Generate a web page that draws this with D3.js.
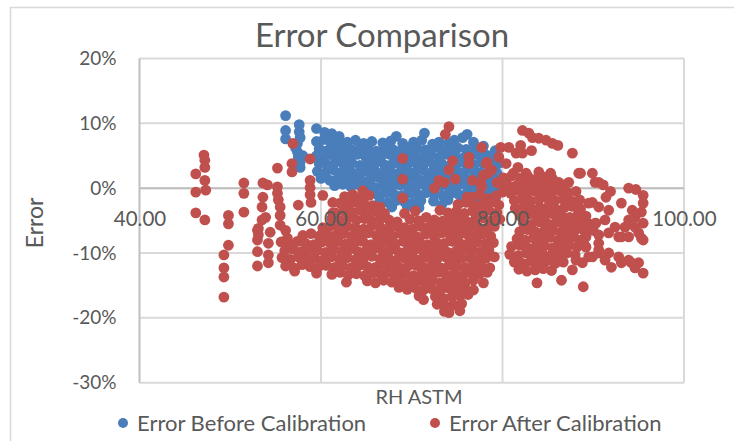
<!DOCTYPE html>
<html>
<head>
<meta charset="utf-8">
<script src="https://cdn.jsdelivr.net/npm/d3@7/dist/d3.min.js"></script>
<style>
  body { margin: 0; background: #fff; }
  text { font-family: Lato, "Open Sans", sans-serif; fill: #595959; }
</style>
</head>
<body>
<div id="chart"></div>
<script>
// axis ticks and series names
const xTicks = [40, 60, 80, 100];
const yTicks = [-30, -20, -10, 0, 10, 20];
const seriesNames = ["Error Before Calibration", "Error After Calibration"];

// Error Before Calibration: [RH ASTM, error %]
const beforeCal = [
  [56.1,11.2],[56.1,8.9],[56.1,7.6],[57.6,9.8],[57.6,8.7],[57.7,7.8],[57.4,6.9],[57.4,5.6],[57.5,4.8],[57.7,4.0],[57.7,3.2],[57.2,6.2],[58.0,5.0],
  [59.5,9.2],[60.4,8.6],[61.2,8.4],[62.0,8.0],[68.3,8.0],[71.4,8.5],[76.1,8.3],[74.7,7.4],[73.0,7.1],[75.6,7.8],
  [59.5,7.2],[60.3,7.5],[61.1,7.0],[62.0,7.3],[62.9,7.1],[63.8,7.4],[64.7,6.9],[65.6,7.2],[66.8,7.0],[67.7,7.3],[69.0,6.9],[70.2,7.1],[71.1,7.4],[72.3,6.8],[74.1,7.0],[76.8,7.1],[77.9,6.5],
  [59.8,6.1],[60.7,5.8],[61.6,6.3],[62.5,6.0],[63.4,5.9],[64.3,6.2],[65.2,6.0],[66.1,5.7],[67.0,6.2],[67.9,6.0],[68.8,5.8],[69.7,6.3],[70.6,6.1],[71.5,5.9],[72.4,6.2],[73.3,6.0],[74.2,5.8],[75.1,6.2],[76.0,6.0],[76.9,5.7],[77.8,6.1],[79.2,5.8],
  [59.5,5.0],[60.4,4.7],[61.3,5.1],[62.2,4.9],[63.1,4.8],[64.0,5.2],[64.9,4.9],[65.8,4.7],[66.7,5.0],[67.6,5.2],[68.5,4.8],[69.4,4.9],[70.3,5.1],[71.2,4.7],[72.1,5.0],[73.0,4.8],[73.9,5.2],[74.8,4.9],[75.7,4.7],[76.6,5.1],[77.5,4.9],[78.4,5.0],[79.3,4.7],
  [59.8,3.8],[60.7,3.6],[61.6,4.0],[62.5,3.7],[63.4,3.9],[64.3,3.5],[65.2,3.8],[66.1,4.0],[67.0,3.6],[67.9,3.8],[68.8,3.5],[69.7,3.9],[70.6,3.7],[71.5,4.0],[72.4,3.6],[73.3,3.8],[74.2,3.5],[75.1,3.9],[76.0,3.7],[76.9,3.6],[77.8,3.9],[78.7,3.5],[79.6,3.8],
  [59.6,2.6],[60.5,2.4],[61.4,2.8],[62.3,2.5],[63.2,2.7],[64.1,2.3],[65.0,2.6],[65.9,2.8],[66.8,2.4],[67.7,2.6],[68.6,2.3],[69.5,2.7],[70.4,2.5],[71.3,2.8],[72.2,2.4],[73.1,2.6],[74.0,2.3],[74.9,2.7],[75.8,2.5],[76.7,2.8],[77.6,2.4],[78.5,2.6],[79.4,2.3],
  [60.0,1.5],[61.0,1.2],[61.9,1.6],[62.8,1.3],[63.7,1.5],[64.6,1.1],[65.5,1.4],[66.4,1.6],[67.3,1.2],[68.2,1.4],[69.1,1.1],[70.0,1.5],[70.9,1.3],[71.8,1.6],[72.7,1.2],[73.6,1.4],[74.5,1.1],[75.4,1.5],[76.3,1.3],[77.2,1.6],[78.1,1.2],[79.0,1.4],
  [61.5,0.4],[62.4,0.6],[63.3,0.2],[64.2,0.5],[65.1,0.3],[66.0,0.1],[66.9,0.4],[67.8,0.2],[68.7,0.5],[69.6,0.1],[70.5,0.3],[71.4,0.5],[72.3,0.2],[73.2,0.4],[74.1,0.1],[75.0,0.3],[75.9,0.5],[76.8,0.2],[77.7,0.4],[78.6,0.1],[79.5,0.3],
  [65.0,-0.8],[66.2,-1.0],[67.1,-0.7],[68.0,-0.9],[68.9,-1.1],[69.8,-0.8],[70.7,-1.0],[71.6,-0.7],[72.5,-0.9],[73.4,-1.1],[74.3,-0.8],[75.2,-1.0],[76.1,-0.7],[77.0,-0.9],[77.9,-1.1],[78.8,-0.8],
  [66.5,-2.0],[67.4,-2.2],[68.3,-1.9],[69.2,-2.1],[70.1,-2.3],[71.0,-1.9],[72.4,-2.0],[74.0,-1.8],[75.5,-2.1],[77.2,-1.9],[78.5,-2.2],
  [67.8,-2.9],[69.5,-2.8],[70.8,-3.0],[73.3,-2.6],[79.2,-1.6]
];

// Error After Calibration, sparse left part
const afterLeft = [
  [46.2,2.2],[46.2,-0.6],[46.2,-3.8],[47.1,5.1],[47.2,4.3],[47.2,3.2],[47.2,1.2],[47.3,-0.3],[47.2,-4.9],
  [49.3,-10.3],[49.3,-12.3],[49.3,-13.7],[49.3,-16.8],[49.8,-4.2],[49.8,-5.5],[49.8,-8.8],
  [51.5,0.8],[51.5,-0.8],[51.5,-3.7],[53.0,-6.5],[53.0,-8.0],[53.0,-9.8],[53.0,-12.0],
  [53.6,0.8],[54.1,0.5],[53.6,-1.4],[53.5,-2.9],[53.9,-4.5],[53.5,-4.9],[53.1,-6.2],[53.1,-7.2],[54.4,-6.8],
  [54.2,-8.5],[54.2,-10.3],[54.2,-11.5],[55.2,3.1],[55.2,0.2],[55.2,-0.8],[55.3,-1.8],[55.5,-2.9],[55.5,-4.2],
  [55.5,-5.7],[56.1,-6.5],[56.3,-7.7],[56.9,6.9],[56.8,3.8],[56.8,2.5],[57.5,-2.6],
  [58.8,4.5],[58.8,1.2],[58.8,0.1],[58.8,-1.0],[58.9,-2.2],[60.2,-1.1],[61.3,-2.2],[61.3,-3.8],[60.2,-6.9]
];

// Error After Calibration, dense middle part (RH 55-80)
const afterMid = [
  [62.6,-1.3],[63.5,-1.0],[64.4,-1.5],[65.3,-1.1],[76.6,-1.4],[77.5,-1.0],[78.4,-1.6],[79.3,-1.2],
  [62.1,-2.3],[63.0,-2.6],[63.9,-2.2],[64.8,-2.5],[65.7,-2.7],[66.5,-2.9],[75.1,-2.5],[76.0,-2.2],[76.9,-2.7],[77.8,-2.4],[78.7,-2.2],[79.6,-2.6],
  [61.6,-3.8],[62.5,-3.5],[63.4,-3.7],[64.3,-3.4],[65.2,-3.8],[66.1,-3.6],[67.0,-3.9],[69.2,-3.9],[70.4,-3.5],[73.1,-3.4],[74.0,-3.8],[74.9,-3.6],[75.8,-3.9],[76.7,-3.5],[77.6,-3.7],[78.5,-3.4],[79.4,-3.8],
  [61.2,-4.7],[62.1,-5.0],[63.0,-4.6],[63.9,-4.9],[64.8,-4.7],[65.7,-5.1],[66.6,-4.6],[67.5,-4.9],[68.4,-5.2],[69.8,-4.8],[70.7,-5.0],[71.6,-4.5],[72.5,-4.9],[73.4,-5.1],[74.3,-4.7],[75.2,-4.9],[76.1,-5.2],[77.0,-4.8],[77.9,-4.6],[78.8,-5.0],[79.7,-4.8],
  [60.2,-6.1],[61.1,-5.8],[62.0,-6.2],[62.9,-5.9],[63.8,-6.1],[64.7,-6.3],[65.6,-5.8],[66.5,-6.0],[67.4,-6.2],[68.3,-5.9],[69.2,-6.1],[70.1,-6.3],[71.0,-5.9],[71.9,-6.0],[72.8,-6.2],[73.7,-5.8],[74.6,-6.1],[75.5,-6.3],[76.4,-5.9],[77.3,-6.0],[78.2,-6.2],[79.1,-5.9],
  [58.0,-7.3],[58.9,-7.0],[59.8,-7.4],[60.7,-7.1],[61.6,-7.3],[62.5,-7.0],[63.4,-7.4],[64.3,-7.2],[65.2,-6.9],[66.1,-7.3],[67.0,-7.1],[67.9,-7.4],[68.8,-7.0],[69.7,-7.2],[70.6,-7.5],[71.5,-7.1],[72.4,-7.3],[73.3,-6.9],[74.2,-7.2],[75.1,-7.4],[76.0,-7.0],[76.9,-7.3],[77.8,-7.1],[78.7,-7.4],
  [55.6,-8.3],[56.5,-8.6],[57.4,-8.2],[58.3,-8.5],[59.2,-8.7],[60.1,-8.3],[61.0,-8.5],[61.9,-8.2],[62.8,-8.6],[63.7,-8.4],[64.6,-8.2],[65.5,-8.7],[66.4,-8.4],[67.3,-8.3],[68.2,-8.6],[69.1,-8.2],[70.0,-8.5],[70.9,-8.4],[71.8,-8.7],[72.7,-8.3],[73.6,-8.5],[74.5,-8.2],[75.4,-8.6],[76.3,-8.4],[77.2,-8.3],[78.1,-8.6],[79.0,-8.4],
  [56.0,-9.7],[56.9,-9.4],[57.8,-9.8],[58.7,-9.5],[59.6,-9.6],[60.5,-9.9],[61.4,-9.5],[62.3,-9.7],[63.2,-9.4],[64.1,-9.8],[65.0,-9.6],[65.9,-9.3],[66.8,-9.7],[67.7,-9.5],[68.6,-9.9],[69.5,-9.6],[70.4,-9.4],[71.3,-9.8],[72.2,-9.6],[73.1,-9.5],[74.0,-9.9],[74.9,-9.7],[75.8,-9.4],[76.7,-9.6],[77.6,-9.8],[78.5,-9.5],
  [55.7,-10.7],[56.6,-11.0],[57.5,-10.6],[58.4,-10.9],[59.3,-10.8],[60.2,-11.1],[61.1,-10.6],[62.0,-10.9],[62.9,-10.7],[63.8,-11.0],[64.7,-10.8],[65.6,-10.5],[66.5,-10.9],[67.4,-10.7],[68.3,-11.1],[69.2,-10.8],[70.1,-10.6],[71.0,-11.0],[71.9,-10.7],[72.8,-10.9],[73.7,-10.6],[74.6,-11.0],[75.5,-10.8],[76.4,-10.7],[77.3,-11.0],[78.2,-10.8],[79.1,-10.6],
  [56.1,-12.0],[57.0,-12.3],[57.9,-11.8],[58.8,-12.1],[59.7,-12.2],[60.6,-11.9],[61.5,-12.2],[62.4,-12.0],[63.3,-12.3],[64.2,-11.9],[65.1,-12.1],[66.0,-12.2],[66.9,-11.8],[67.8,-12.1],[68.7,-12.3],[69.6,-12.0],[70.5,-11.9],[71.4,-12.2],[72.3,-12.0],[73.2,-12.3],[74.1,-11.9],[75.0,-12.1],[75.9,-12.2],[76.8,-11.9],[77.7,-12.1],[78.6,-12.3],
  [57.1,-12.8],[59.5,-13.1],[61.2,-13.3],[62.1,-13.0],[63.0,-13.4],[63.9,-13.2],[64.8,-13.5],[65.7,-13.1],[66.6,-13.3],[67.5,-13.0],[68.4,-13.4],[69.3,-13.2],[70.2,-13.5],[71.1,-13.1],[72.0,-13.3],[72.9,-13.0],[73.8,-13.4],[74.7,-13.2],[75.6,-13.5],[76.5,-13.1],[77.4,-13.3],[78.3,-13.0],
  [62.8,-14.5],[65.1,-14.3],[66.0,-14.6],[66.9,-14.2],[67.8,-14.5],[68.7,-14.4],[69.6,-14.7],[70.5,-14.3],[71.4,-14.5],[72.3,-14.2],[73.2,-14.6],[74.1,-14.4],[75.0,-14.3],[75.9,-14.6],[76.8,-14.2],[77.9,-14.6],
  [68.6,-15.3],[69.5,-15.6],[70.4,-15.4],[71.3,-15.7],[72.2,-15.5],[73.1,-15.8],[74.0,-15.4],[74.9,-15.6],[75.8,-15.5],[76.8,-15.7],
  [70.8,-16.6],[71.3,-17.2],[72.6,-16.7],[73.5,-17.0],[74.4,-16.8],[75.3,-16.6],[76.2,-16.4],
  [72.8,-17.9],[73.7,-18.2],[74.6,-18.0],[75.5,-17.8],
  [73.6,-19.0],[74.1,-19.2],[75.3,-18.9]
];

// Error After Calibration, points lying over the blue cluster and the top arc
const afterUpper = [
  [69.0,4.6],[69.0,1.4],[69.0,-1.5],[74.1,9.5],[73.7,8.3],[74.5,4.2],[74.1,2.8],[74.8,1.4],[73.6,0.9],[73.0,1.2],[72.5,0.0],
  [76.3,4.8],[76.3,3.8],[77.7,6.3],[78.3,4.0],[77.9,2.0],[76.7,1.2],[77.7,0.2],[76.1,-1.4],[79.4,0.9],[78.8,2.8],
  [63.2,-1.4],[64.6,-0.4],[66.7,-4.6],
  [79.8,6.3],[80.7,6.3],[82.2,8.9],[82.9,8.5],[83.3,7.8],[84.0,7.7],[84.8,7.4],[85.5,6.9],[86.1,6.6],[87.7,5.4],
  [81.5,5.4],[82.0,6.6],[83.2,5.8],[79.6,4.8],[80.4,3.8],[81.2,2.3],[81.7,3.2],[82.2,5.4],[82.6,2.3],[84.0,2.5],[85.3,2.3],
  [78.2,3.8],[78.4,2.3],[77.6,0.9],[79.5,0.8]
];

// Error After Calibration, right part (RH 80-96)
const afterRight = [
  [80.1,1.6],[81.0,1.9],[81.9,1.5],[82.8,1.8],[83.7,1.4],[84.6,1.7],[85.5,1.5],
  [80.5,0.6],[81.4,0.3],[82.3,0.7],[83.2,0.4],[84.1,0.6],[85.0,0.3],[85.9,0.8],[86.8,0.5],
  [80.0,-0.6],[80.9,-0.8],[81.8,-0.4],[82.7,-0.7],[83.6,-0.5],[84.5,-0.8],[85.4,-0.6],[86.3,-0.4],[87.2,-0.7],[88.1,-0.5],
  [81.3,-1.9],[82.2,-1.6],[83.1,-2.0],[84.0,-1.8],[84.9,-1.5],[85.8,-1.9],[86.7,-1.7],[87.6,-2.0],[88.5,-1.8],
  [81.4,-3.1],[82.3,-2.8],[83.2,-3.2],[84.1,-3.0],[85.0,-2.9],[85.9,-3.3],[86.8,-3.0],[87.7,-2.8],[88.6,-3.2],
  [82.0,-4.3],[82.9,-4.0],[83.8,-4.4],[84.7,-4.2],[85.6,-4.0],[86.5,-4.3],[87.4,-4.5],[88.3,-4.1],[89.2,-4.3],
  [82.3,-5.4],[83.2,-5.6],[84.1,-5.2],[85.0,-5.5],[85.9,-5.3],[86.8,-5.6],[87.7,-5.4],[88.6,-5.2],[89.5,-5.5],[90.3,-5.4],
  [81.9,-6.7],[82.8,-6.4],[83.7,-6.8],[84.6,-6.6],[85.5,-6.5],[86.4,-6.8],[87.3,-6.6],[88.2,-6.3],[89.1,-6.7],[90.0,-6.5],
  [81.6,-7.8],[82.5,-8.0],[83.4,-7.7],[84.3,-7.9],[85.2,-7.6],[86.1,-8.0],[87.0,-7.8],[87.9,-7.6],[88.8,-7.9],
  [81.0,-9.0],[81.9,-8.8],[82.8,-9.2],[83.7,-9.0],[84.6,-8.9],[85.5,-9.2],[86.4,-9.0],[87.3,-8.8],[88.2,-9.1],[89.1,-8.9],
  [80.8,-10.2],[81.7,-10.4],[82.6,-10.0],[83.5,-10.3],[84.4,-10.1],[85.3,-10.4],[86.2,-10.2],[87.1,-10.0],[88.0,-10.3],
  [81.3,-11.4],[82.2,-11.6],[83.1,-11.3],[84.0,-11.5],[84.9,-11.2],[85.8,-11.6],[86.7,-11.4],[88.1,-11.1],
  [81.8,-12.5],[82.7,-12.8],[83.6,-12.6],[84.5,-12.4],[85.4,-12.7],[87.7,-12.6],
  [83.8,-14.6],[86.5,-14.2],[88.9,-15.2],
  [86.2,0.9],[87.3,0.9],[88.4,2.3],[88.6,2.3],[89.9,2.3],[90.2,0.9],[90.6,0.9],[91.1,0.5],[91.9,-0.5],[93.9,0.0],[94.7,-0.2],
  [95.5,-1.1],[95.5,-2.3],[95.3,-3.7],[94.6,-4.5],[93.9,-4.9],[93.1,-2.3],[94.3,-3.4],[89.9,-2.2],[91.4,-1.4],[89.5,-2.3],[90.6,-2.9],[91.7,-3.4],
  [93.5,-6.0],[94.6,-6.0],[95.3,-7.7],[93.1,-7.5],[91.3,-4.9],[90.2,-5.4],[89.5,-6.5],[88.4,-6.0],[92.4,-6.0],
  [89.2,-7.5],[90.6,-7.2],[91.7,-6.9],[92.8,-7.5],[93.9,-7.5],[95.0,-6.9],[95.5,-5.4],[95.5,-8.0],
  [90.6,-8.5],[89.2,-9.1],[90.6,-9.5],[91.7,-10.0],[92.8,-10.6],[93.9,-11.1],[95.0,-11.5],[89.9,-10.6],[88.8,-11.5],
  [89.5,-10.6],[90.6,-10.0],[91.3,-11.1],[92.0,-12.2],[93.1,-11.5],[94.2,-11.5],[95.5,-13.1],[94.6,-12.3]
];

const afterCal = afterLeft.concat(afterMid, afterUpper, afterRight);

const width = 734, height = 441;
const svg = d3.select("#chart").append("svg")
    .attr("width", width)
    .attr("height", height);

// chart area border
svg.append("rect")
    .attr("x", 10.5).attr("y", 7.5)
    .attr("width", 740).attr("height", 450)
    .attr("fill", "#fff")
    .attr("stroke", "#d9d9d9")
    .attr("stroke-width", 1.5);

const x = d3.scaleLinear().domain([40, 100]).range([139.5, 684]);
const y = d3.scaleLinear().domain([-30, 20]).range([382.7, 58.5]);

// gridlines
svg.append("g").selectAll("line")
    .data(yTicks)
    .join("line")
    .attr("x1", x(40)).attr("x2", x(100))
    .attr("y1", d => y(d)).attr("y2", d => y(d))
    .attr("stroke", "#d9d9d9").attr("stroke-width", 2);

svg.append("g").selectAll("line")
    .data(xTicks.slice(1))
    .join("line")
    .attr("x1", d => x(d)).attr("x2", d => x(d))
    .attr("y1", y(20)).attr("y2", y(-30))
    .attr("stroke", "#d9d9d9").attr("stroke-width", 2);

// axis lines
svg.append("line")
    .attr("x1", x(40)).attr("x2", x(40))
    .attr("y1", y(20)).attr("y2", y(-30))
    .attr("stroke", "#bfbfbf").attr("stroke-width", 2);
svg.append("line")
    .attr("x1", x(40)).attr("x2", x(100))
    .attr("y1", y(0)).attr("y2", y(0))
    .attr("stroke", "#bfbfbf").attr("stroke-width", 2);

// series
const colors = ["#4a7ebb", "#c0504d"];
[beforeCal, afterCal].forEach(function (pts, i) {
    svg.append("g").selectAll("circle")
        .data(pts)
        .join("circle")
        .attr("cx", d => x(d[0]))
        .attr("cy", d => y(d[1]))
        .attr("r", 5.4)
        .attr("fill", colors[i]);
});

// y axis labels
const yAxis = svg.append("g")
    .attr("transform", `translate(${x(40)},0)`)
    .call(d3.axisLeft(y).tickValues(yTicks).tickSize(0).tickPadding(23).tickFormat(d => d + "%"));
yAxis.select(".domain").remove();
yAxis.selectAll("text")
    .attr("font-family", null)
    .style("font-size", "19px")
    .attr("fill", null);

// x axis labels, crossing at 0%
const xAxis = svg.append("g")
    .attr("transform", `translate(0,${y(0)})`)
    .call(d3.axisBottom(x).tickValues(xTicks).tickSize(0).tickPadding(23).tickFormat(d3.format(".2f")));
xAxis.select(".domain").remove();
xAxis.selectAll("text")
    .attr("font-family", null)
    .style("font-size", "20.5px")
    .attr("fill", null);

// titles
svg.append("text")
    .attr("x", 382).attr("y", 47)
    .attr("text-anchor", "middle")
    .style("font-size", "33px")
    .text("Error Comparison");

svg.append("text")
    .attr("transform", `translate(43,223) rotate(-90)`)
    .attr("text-anchor", "middle")
    .style("font-size", "23px")
    .text("Error");

svg.append("text")
    .attr("x", 419).attr("y", 404)
    .attr("text-anchor", "middle")
    .style("font-size", "20px")
    .text("RH ASTM");

// legend
const legendX = [123, 435];
const legend = svg.append("g").selectAll("g")
    .data(seriesNames)
    .join("g")
    .attr("transform", (d, i) => `translate(${legendX[i]},423)`);
legend.append("circle").attr("r", 5).attr("fill", (d, i) => colors[i]);
legend.append("text")
    .attr("x", 14).attr("y", 7.5)
    .style("font-size", "22px")
    .text(d => d);
</script>
</body>
</html>
